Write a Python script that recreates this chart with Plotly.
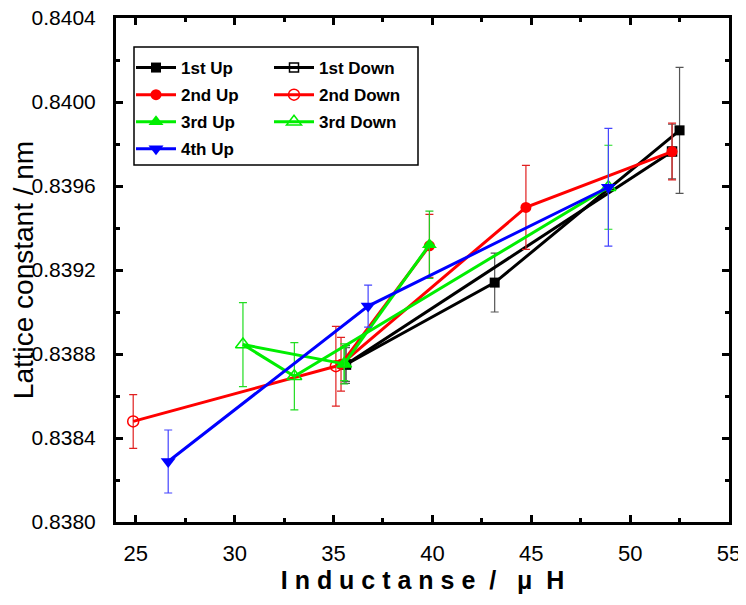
import plotly.graph_objects as go

# ---- data ----
up1_x = [35.63, 43.15, 52.5]
up1_y = [0.83875, 0.83914, 0.839865]
up1_e = [0.00009, 0.00014, 0.00030]

down1_x = [52.12, 35.63]
down1_y = [0.839764, 0.83875]
down1_e = [0.00013, 0.00008]

up2_x = [39.85, 35.38, 44.73, 52.12]
up2_y = [0.839315, 0.838751, 0.839498, 0.839764]
up2_e = [0.00015, 0.000128, 0.0002, 0.000135]

down2_x = [35.12, 24.87]
down2_y = [0.838742, 0.838479]
down2_e = [0.00019, 0.000128]

up3_x = [35.54, 39.85]
up3_y = [0.838753, 0.83932]
up3_e = [0.000095, 0.00016]

down3_x = [35.54, 30.42, 33.02, 48.9]
down3_y = [0.838753, 0.838845, 0.838694, 0.839594]
down3_e = [0.00008, 0.0002, 0.00016, 0.0002]

up4_x = [26.64, 36.75, 48.9]
up4_y = [0.838288, 0.839028, 0.839594]
up4_e = [0.00015, 0.0001, 0.00028]

FONT = "Liberation Sans, Arial, sans-serif"

fig = go.Figure()

def add(name, x, y, e, color, ecolor, symbol, size, legend, open_=False):
    marker = dict(symbol=symbol, size=size, color=color)
    if open_:
        marker = dict(symbol=symbol + "-open", size=size, color=color, line=dict(width=1.5, color=color))
    fig.add_trace(go.Scatter(
        x=x, y=y, name=name, mode="lines+markers",
        line=dict(color=color, width=3),
        marker=marker,
        error_y=dict(type="data", array=e, visible=True, color=ecolor, thickness=1.2, width=4),
        legend=legend, legendgroup=name,
    ))

add("1st Up", up1_x, up1_y, up1_e, "#000000", "#555555", "square", 10, "legend")
add("1st Down", down1_x, down1_y, down1_e, "#000000", "#555555", "square", 9, "legend2", True)
add("2nd Up", up2_x, up2_y, up2_e, "#ff0000", "#e02020", "circle", 11, "legend")
add("2nd Down", down2_x, down2_y, down2_e, "#ff0000", "#e02020", "circle", 11, "legend2", True)
add("3rd Up", up3_x, up3_y, up3_e, "#00ee00", "#22cc22", "triangle-up", 13, "legend")
add("3rd Down", down3_x, down3_y, down3_e, "#00ee00", "#22dd22", "triangle-up", 13, "legend2", True)
add("4th Up", up4_x, up4_y, up4_e, "#0000ff", "#4444ff", "triangle-down", 13, "legend")

# the page places the figure 8px from the top-left corner
OFF = 8
W, H = 746 - OFF, 605 - OFF
PL, PR, PT, PB = 116, 729, 18, 522   # plot area in page pixels
L, R, T, B = PL - OFF, W - (PR - OFF), PT - OFF, H - (PB - OFF)
pw = PR - PL
ph = PB - PT

def px2paper_x(px):
    return (px - PL) / pw

def px2paper_y(py):
    return (PB - py) / ph

legend_font = dict(family=FONT, size=17, color="black", weight="bold")

fig.update_layout(
    width=W, height=H,
    margin=dict(l=L, r=R, t=T, b=B),
    paper_bgcolor="white", plot_bgcolor="white",
    font=dict(family=FONT, color="black"),
    showlegend=True,
    legend=dict(x=px2paper_x(131), y=px2paper_y(50), xanchor="left", yanchor="top",
                bgcolor="rgba(0,0,0,0)", borderwidth=0, font=legend_font,
                itemwidth=40, tracegroupgap=2, traceorder="grouped"),
    legend2=dict(x=px2paper_x(269), y=px2paper_y(50), xanchor="left", yanchor="top",
                 bgcolor="rgba(0,0,0,0)", borderwidth=0, font=legend_font,
                 itemwidth=40, tracegroupgap=2, traceorder="grouped"),
    shapes=[dict(type="rect", xref="paper", yref="paper",
                 x0=px2paper_x(134), x1=px2paper_x(418),
                 y0=px2paper_y(165), y1=px2paper_y(47),
                 line=dict(color="black", width=1.5), fillcolor="rgba(0,0,0,0)", layer="above")],
)

NB = "\u00a0"
xtitle = NB.join(list("Inductanse")) + NB * 2 + "/" + NB * 3 + "μ" + NB * 2 + "H"

fig.update_xaxes(
    range=[24, 55], tickmode="linear", tick0=25, dtick=5, automargin=False,
    ticklabeloverflow="allow",
    showline=True, linecolor="black", linewidth=3, mirror="ticks",
    ticks="inside", ticklen=7, tickwidth=3, tickcolor="black",
    minor=dict(ticks="inside", ticklen=4, tickwidth=3, tickcolor="black", dtick=2.5, tick0=25),
    showgrid=False, zeroline=False,
    tickfont=dict(family=FONT, size=22, color="black"), ticklabelstandoff=10,
    title=dict(text=xtitle, font=dict(family=FONT, size=25, color="black", weight="bold"), standoff=7),
)
fig.update_yaxes(
    range=[0.8380, 0.8404], tickmode="linear", tick0=0.8380, dtick=0.0004, tickformat=".4f",
    automargin=False, ticklabeloverflow="allow",
    showline=True, linecolor="black", linewidth=3, mirror="ticks",
    ticks="inside", ticklen=7, tickwidth=3, tickcolor="black",
    minor=dict(ticks="inside", ticklen=4, tickwidth=3, tickcolor="black", dtick=0.0002, tick0=0.8380),
    showgrid=False, zeroline=False,
    tickfont=dict(family=FONT, size=21, color="black"), ticklabelstandoff=13,
    title=dict(text="Lattice constant / nm", font=dict(family=FONT, size=28, color="black"), standoff=9),
)

fig.write_html("out.html")
